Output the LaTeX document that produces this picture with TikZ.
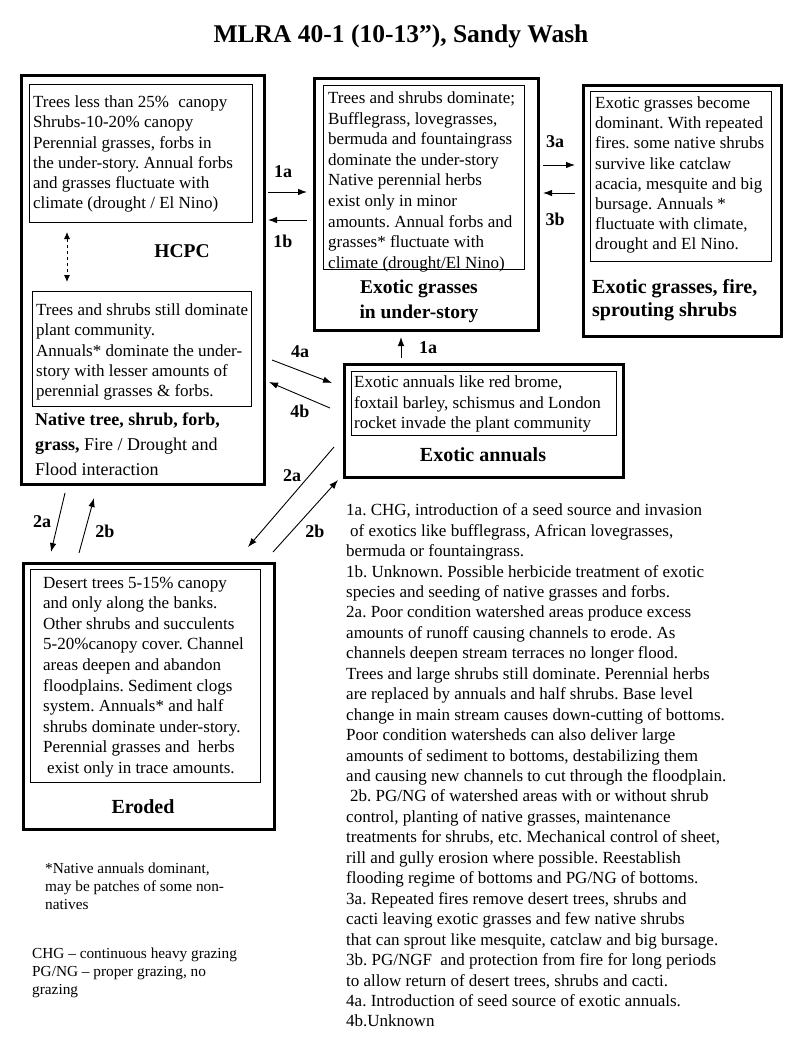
\documentclass[tikz,border=0pt]{standalone}
\usepackage{fontspec}
\setmainfont{Liberation Serif}
\usetikzlibrary{arrows.meta}
\newcommand\myfs[2]{\fontsize{#1}{#2}\selectfont}
\frenchspacing
\begin{document}
\frenchspacing
\begin{tikzpicture}[x=1pt,y=-1pt,
  outerbox/.style={draw, line width=3pt, rectangle, inner sep=0pt, anchor=north west},
  innerbox/.style={draw, line width=1pt, rectangle, inner sep=0pt, anchor=north west},
  body/.style={font=\myfs{17}{#1}\frenchspacing, align=left, inner sep=0pt, anchor=north west},
  body/.default=20.4,
  ttl/.style={font=\myfs{20}{25}\bfseries, inner sep=0pt, anchor=base},
  lbl/.style={font=\myfs{18}{20}\bfseries, inner sep=0pt, anchor=base},
  note/.style={font=\myfs{15.3}{18.3}\frenchspacing, align=left, inner sep=0pt, anchor=north west},
  arr/.style={line width=0.9pt, -{Latex[length=9pt,width=6.5pt]}},
  dash2/.style={line width=0.9pt, dashed, {Latex[length=7pt,width=6pt]}-{Latex[length=7pt,width=6pt]}}
]
\fill[white] (0,0) rectangle (800,1046);
\useasboundingbox (0,0) rectangle (800,1046);

% title
\node[font=\myfs{25.5}{30}\bfseries, inner sep=0pt, anchor=base] (title) at (401,43) {MLRA 40-1 (10-13”), Sandy Wash};

% boxes
\node[outerbox, minimum width=243pt, minimum height=409pt] (hcpc) at (20,74) {};
\node[innerbox, minimum width=223pt, minimum height=138pt] (hcpcA) at (29,84) {};
\node[innerbox, minimum width=219pt, minimum height=115pt] (hcpcB) at (32,291) {};
\node[outerbox, minimum width=224pt, minimum height=252pt] (exg) at (313,77) {};
\node[innerbox, minimum width=201pt, minimum height=184pt] (exgIn) at (323,85) {};
\node[outerbox, minimum width=198pt, minimum height=251pt] (fire) at (582,84) {};
\node[innerbox, minimum width=181pt, minimum height=170pt] (fireIn) at (590,91) {};
\node[outerbox, minimum width=279pt, minimum height=113pt] (ann) at (343,363) {};
\node[innerbox, minimum width=265pt, minimum height=64pt] (annIn) at (351,371) {};
\node[outerbox, minimum width=251pt, minimum height=266pt] (ero) at (22,562) {};
\node[innerbox, minimum width=230pt, minimum height=213pt] (eroIn) at (30,569) {};

% box texts
\node[body=20.3] (tA) at (33,95.5) {Trees less than 25\%\hspace{5pt} canopy\\Shrubs-10-20\% canopy\\Perennial grasses, forbs in\\the under-story. Annual forbs\\and grasses fluctuate with\\climate (drought / El Nino)};
\node[font=\myfs{19.5}{24}\bfseries, inner sep=0pt, anchor=base] (hcpcT) at (182,257) {HCPC};
\node[body=20.3] (tB) at (36,303.5) {Trees and shrubs still dominate\\plant community.\\Annuals* dominate the under-\\story with lesser amounts of\\perennial grasses \& forbs.};
\node[font=\myfs{18}{25}, align=left, inner sep=0pt, anchor=north west] (tNat) at (35,412.7) {\textbf{Native tree, shrub, forb,}\\\textbf{grass,} Fire / Drought and\\Flood interaction};

\node[body=20.6] (tExg) at (328,91.5) {Trees and shrubs dominate;\\Bufflegrass, lovegrasses,\\bermuda and fountaingrass\\dominate the under-story\\Native perennial herbs\\exist only in minor\\amounts. Annual forbs and\\grasses* fluctuate with\\climate (drought/El Nino)};
\node[font=\myfs{19.5}{25}\bfseries, align=center, inner sep=0pt, anchor=base] (exgT) at (419,318) {Exotic grasses\\in under-story};

\node[body=20.2] (tFire) at (595,96.5) {Exotic grasses become\\dominant. With repeated\\fires. some native shrubs\\survive like catclaw\\acacia, mesquite and big\\bursage. Annuals *\\fluctuate with climate,\\drought and El Nino.};
\node[font=\myfs{20}{23}\bfseries, align=left, inner sep=0pt, anchor=north west] (fireT) at (592,279.5) {Exotic grasses, fire,\\sprouting shrubs};

\node[body=20.5] (tAnn) at (354,375.5) {Exotic annuals like red brome,\\foxtail barley, schismus and London\\rocket invade the plant community};
\node[ttl] (annT) at (483,461) {Exotic annuals};

\node[body=20.6] (tEro) at (43,576.5) {Desert trees 5-15\% canopy\\and only along the banks.\\Other shrubs and succulents\\5-20\%canopy cover. Channel\\areas deepen and abandon\\floodplains. Sediment clogs\\system. Annuals* and half\\shrubs dominate under-story.\\Perennial grasses and\hspace{4pt} herbs\\\hspace*{4pt}exist only in trace amounts.};
\node[ttl] (eroT) at (143,813) {Eroded};

% notes
\node[body=20.45] (notes) at (346,503.5) {1a. CHG, introduction of a seed source and invasion\\\hspace*{4pt}of exotics like bufflegrass, African lovegrasses,\\bermuda or fountaingrass.\\1b. Unknown. Possible herbicide treatment of exotic\\species and seeding of native grasses and forbs.\\2a. Poor condition watershed areas produce excess\\amounts of runoff causing channels to erode. As\\channels deepen stream terraces no longer flood.\\Trees and large shrubs still dominate. Perennial herbs\\are replaced by annuals and half shrubs. Base level\\change in main stream causes down-cutting of bottoms.\\Poor condition watersheds can also deliver large\\amounts of sediment to bottoms, destabilizing them\\and causing new channels to cut through the floodplain.\\\hspace*{4pt}2b. PG/NG of watershed areas with or without shrub\\control, planting of native grasses, maintenance\\treatments for shrubs, etc. Mechanical control of sheet,\\rill and gully erosion where possible. Reestablish\\flooding regime of bottoms and PG/NG of bottoms.\\3a. Repeated fires remove desert trees, shrubs and\\cacti leaving exotic grasses and few native shrubs\\that can sprout like mesquite, catclaw and big bursage.\\3b. PG/NGF\hspace{4pt} and protection from fire for long periods\\to allow return of desert trees, shrubs and cacti.\\4a. Introduction of seed source of exotic annuals.\\4b.Unknown};

\node[note] (star) at (45,862.5) {*Native annuals dominant,\\may be patches of some non-\\natives};
\node[note] (abbr) at (32,947.5) {CHG – continuous heavy grazing\\PG/NG – proper grazing, no\\grazing};

% arrow end points
\coordinate (a1s) at (268,192); \coordinate (a1e) at (307,192);
\coordinate (b1s) at (307,220); \coordinate (b1e) at (268,220);
\coordinate (a3s) at (543,165); \coordinate (a3e) at (575,165);
\coordinate (b3s) at (575,193); \coordinate (b3e) at (543,193);
\coordinate (u1s) at (401,358); \coordinate (u1e) at (401,337);
\coordinate (a4s) at (272,360); \coordinate (a4e) at (332,383);
\coordinate (b4s) at (330,408); \coordinate (b4e) at (269,382);
\coordinate (a2rs) at (334,447); \coordinate (a2re) at (248,547);
\coordinate (b2rs) at (273,552); \coordinate (b2re) at (338,480);
\coordinate (a2ls) at (65,493); \coordinate (a2le) at (51,552);
\coordinate (b2ls) at (79,553); \coordinate (b2le) at (94,498);
\coordinate (ds) at (67,232); \coordinate (de) at (67,282);

\draw[arr] (a1s) -- (a1e);
\draw[arr] (b1s) -- (b1e);
\draw[arr] (a3s) -- (a3e);
\draw[arr] (b3s) -- (b3e);
\draw[arr] (u1s) -- (u1e);
\draw[arr] (a4s) -- (a4e);
\draw[arr] (b4s) -- (b4e);
\draw[arr] (a2rs) -- (a2re);
\draw[arr] (b2rs) -- (b2re);
\draw[arr] (a2ls) -- (a2le);
\draw[arr] (b2ls) -- (b2le);
\draw[dash2] (ds) -- (de);

% labels
\node[lbl] (l1a) at (283,177) {1a};
\node[lbl] (l1b) at (283,247) {1b};
\node[lbl] (l3a) at (555,147) {3a};
\node[lbl] (l3b) at (555,225) {3b};
\node[lbl] (l1c) at (428,353) {1a};
\node[lbl] (l4a) at (300,357) {4a};
\node[lbl] (l4b) at (300,417) {4b};
\node[lbl] (l2a) at (292,481) {2a};
\node[lbl] (l2b) at (315,537) {2b};
\node[lbl] (l2c) at (42,527) {2a};
\node[lbl] (l2d) at (105,537) {2b};
\end{tikzpicture}
\end{document}
